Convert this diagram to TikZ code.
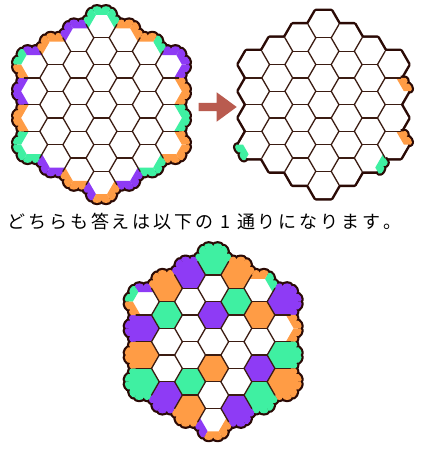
\documentclass[tikz,border=0pt]{standalone}
\usepackage{fontspec}
\newfontfamily\jpfont{Noto Sans CJK JP}
\usetikzlibrary{calc}
\definecolor{gn}{HTML}{3FF0A2}
\definecolor{pp}{HTML}{8E3BF5}
\definecolor{og}{HTML}{FF9C45}
\definecolor{dk}{HTML}{2B0A05}
\definecolor{gl}{HTML}{3B1C12}
\definecolor{ar}{HTML}{B95B4F}
\def\Rh{15.42}
\def\hh{26.7}
\def\dxx{23.13}
\def\sg{3.6}
\def\ein{4.4}
\def\oo{2.55}
\def\om{2.2}
\newcommand\cellc[4]{%
  \pgfmathsetmacro\nn{7-abs(#3-3)}%
  \pgfmathsetmacro\cx{#1+(#3-3)*\dxx}%
  \pgfmathsetmacro\cy{#2-(#4-(\nn-1)/2)*\hh}%
}
\newcommand\boardbase[2]{%
  \foreach \ci in {0,...,6}{%
    \pgfmathtruncatemacro\nm{6-abs(\ci-3)}%
    \foreach \ri in {0,...,\nm}{%
      \cellc{#1}{#2}{\ci}{\ri}%
      \draw[outerline] (\cx+\Rh,\cy) -- ++(120:\Rh) -- ++(180:\Rh) -- ++(240:\Rh) -- ++(300:\Rh) -- ++(0:\Rh) -- cycle;
    }}%
  \foreach \ci in {0,...,6}{%
    \pgfmathtruncatemacro\nm{6-abs(\ci-3)}%
    \foreach \ri in {0,...,\nm}{%
      \cellc{#1}{#2}{\ci}{\ri}%
      \fill[white] (\cx+\Rh,\cy) -- ++(120:\Rh) -- ++(180:\Rh) -- ++(240:\Rh) -- ++(300:\Rh) -- ++(0:\Rh) -- cycle;
    }}%
}
\newcommand\colorcells[3]{%
  \foreach \ci/\ri/\co in #3{%
    \cellc{#1}{#2}{\ci}{\ri}%
    \fill[\co] (\cx+\Rh,\cy) -- ++(120:\Rh) -- ++(180:\Rh) -- ++(240:\Rh) -- ++(300:\Rh) -- ++(0:\Rh) -- cycle;
  }%
}
\newcommand\markpts{%
  \pgfmathsetmacro\aa{60*\ki}\pgfmathsetmacro\ab{60*\ki+60}\pgfmathsetmacro\nb{60*\ki+30}%
  \pgfmathsetmacro\da{60*\ki+240-60*\tA}\pgfmathsetmacro\db{60*\ki+180+60*\tB}%
  \pgfmathsetmacro\oa{60*\ki+60-60*\tA}\pgfmathsetmacro\ob{60*\ki+60*\tB}%
  \coordinate (mA) at ($(\cx,\cy)+(\aa:\Rh)$);
  \coordinate (mB) at ($(\cx,\cy)+(\ab:\Rh)$);
  \coordinate (mM) at ($(mA)!0.5!(mB)$);
  \coordinate (oA) at ($(mA)+(\oa:\oo)$);
  \coordinate (oB) at ($(mB)+(\ob:\oo)$);
  \coordinate (oM) at ($(mM)+(\nb:\om)$);
}
\newcommand\markunder[3]{%
  \foreach \ci/\ri/\ki/\co/\tA/\tB in #3{%
    \cellc{#1}{#2}{\ci}{\ri}%
    \markpts
    \draw[bumpline] (mA) -- (oA) .. controls +(\nb:\sg) and +(\nb:\sg) .. (oM) .. controls +(\nb:\sg) and +(\nb:\sg) .. (oB) -- (mB);
  }%
}
\newcommand\markfill[3]{%
  \foreach \ci/\ri/\ki/\co/\tA/\tB in #3{%
    \cellc{#1}{#2}{\ci}{\ri}%
    \markpts
    \fill[\co] (mA) -- (oA) .. controls +(\nb:\sg) and +(\nb:\sg) .. (oM) .. controls +(\nb:\sg) and +(\nb:\sg) .. (oB) -- (mB) -- ($(mB)+(\db:\ein)$) -- ($(mA)+(\da:\ein)$) -- cycle;
  }%
}
\newcommand\gridlines[2]{%
  \foreach \ci in {0,...,6}{%
    \pgfmathtruncatemacro\nm{6-abs(\ci-3)}%
    \foreach \ri in {0,...,\nm}{%
      \cellc{#1}{#2}{\ci}{\ri}%
      \pgfmathtruncatemacro\fLL{1-max(\ci==0,(\ci<=3)*(\ri==\nm))}%
      \pgfmathtruncatemacro\fB{\ri<\nm}%
      \pgfmathtruncatemacro\fLR{1-max(\ci==6,(\ci>=3)*(\ri==\nm))}%
      \ifnum\fLL=1 \draw[gridl] ($(\cx,\cy)+(180:\Rh)$) -- ($(\cx,\cy)+(240:\Rh)$);\fi
      \ifnum\fB=1 \draw[gridl] ($(\cx,\cy)+(240:\Rh)$) -- ($(\cx,\cy)+(300:\Rh)$);\fi
      \ifnum\fLR=1 \draw[gridl] ($(\cx,\cy)+(300:\Rh)$) -- ($(\cx,\cy)+(0:\Rh)$);\fi
    }}%
}
\newcommand\cb[1]{\makebox[20.86pt]{#1}}
\def\fullmarks{3/0/0/gn/0/1, 3/0/1/gn/1/1, 3/0/2/gn/1/0,
 4/0/0/og/0/1, 4/0/1/og/1/0,
 5/0/0/gn/0/1, 5/0/1/og/1/0,
 6/0/0/pp/1/1, 6/0/1/pp/1/0, 6/0/5/pp/0/1,
 6/1/0/og/1/0, 6/1/5/og/0/1,
 6/2/0/gn/1/0, 6/2/5/gn/0/1,
 6/3/0/og/1/0, 6/3/4/og/0/1, 6/3/5/og/1/1,
 5/4/4/gn/0/1, 5/4/5/gn/1/0,
 4/5/4/pp/0/1, 4/5/5/pp/1/0,
 3/6/3/pp/0/1, 3/6/4/og/1/1, 3/6/5/og/1/0,
 2/5/3/og/0/1, 2/5/4/og/1/0,
 1/4/3/pp/0/1, 1/4/4/pp/1/0,
 0/3/2/gn/0/1, 0/3/3/gn/1/1, 0/3/4/gn/1/0,
 0/2/2/og/0/1, 0/2/3/og/1/0,
 0/1/2/pp/0/1, 0/1/3/pp/1/0,
 0/0/1/pp/0/1, 0/0/2/gn/1/1, 0/0/3/og/1/0,
 1/0/1/og/0/1, 1/0/2/og/1/0,
 2/0/1/pp/0/1, 2/0/2/pp/1/0}
\def\fewmarks{6/1/0/og/1/0, 6/3/0/og/1/0, 0/3/3/gn/1/1, 5/4/5/gn/1/0}
\def\solcells{3/0/gn, 4/1/gn, 1/1/gn, 6/2/gn, 5/4/gn, 2/4/gn, 0/3/gn,
 2/0/pp, 3/2/pp, 6/0/pp, 0/1/pp, 5/3/pp, 1/4/pp, 4/5/pp,
 4/0/og, 1/0/og, 5/1/og, 0/2/og, 3/4/og, 6/3/og, 2/5/og}
\begin{document}
\begin{tikzpicture}[x=1pt,y=1pt,
  outerline/.style={dk,line width=5pt,line join=round},
  bumpline/.style={dk,line width=4.4pt,line cap=butt,line join=round},
  gridl/.style={gl,line width=1.3pt,line cap=round}]
\useasboundingbox (0,0) rectangle (425,450);
\fill[white] (0,0) rectangle (425,450);
% puzzle 1
\boardbase{101.5}{345.4}
\markunder{101.5}{345.4}{\fullmarks}
\markfill{101.5}{345.4}{\fullmarks}
\gridlines{101.5}{345.4}
% puzzle 2
\boardbase{323.5}{345.4}
\markunder{323.5}{345.4}{\fewmarks}
\markfill{323.5}{345.4}{\fewmarks}
\gridlines{323.5}{345.4}
% arrow
\fill[ar] (198.5,338.8) -- (216.7,338.8) -- (216.7,328.3) -- (236.7,343.0) -- (216.7,357.7) -- (216.7,347.2) -- (198.5,347.2) -- cycle;
% caption
\node[font=\jpfont\fontsize{18}{18}\selectfont,inner sep=0pt] (caption) at (204.4,228) {\cb{ど}\cb{ち}\cb{ら}\cb{も}\cb{答}\cb{え}\cb{は}\cb{以}\cb{下}\cb{の}\cb{1}\cb{通}\cb{り}\cb{に}\cb{な}\cb{り}\cb{ま}\cb{す}\cb{。}};
% solution
\boardbase{213.2}{108.3}
\colorcells{213.2}{108.3}{\solcells}
\markunder{213.2}{108.3}{\fullmarks}
\markfill{213.2}{108.3}{\fullmarks}
\gridlines{213.2}{108.3}
\end{tikzpicture}
\end{document}
